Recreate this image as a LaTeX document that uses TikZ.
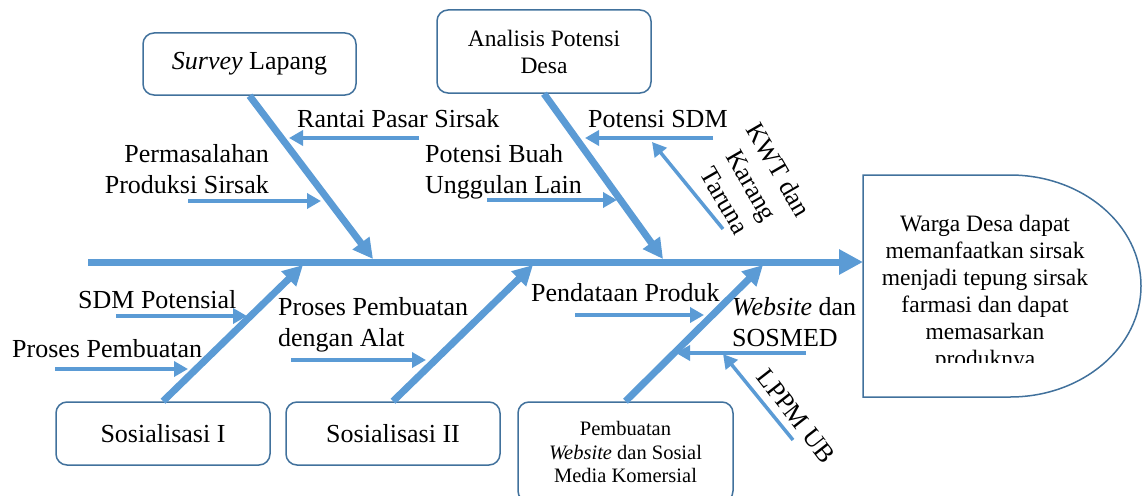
\documentclass[tikz,border=0pt]{standalone}
\usepackage{fontspec}
\setmainfont{Liberation Serif}
\usetikzlibrary{arrows.meta}
\definecolor{fb}{HTML}{5B9BD5}
\definecolor{bc}{HTML}{41719C}
\newcommand\fbig{\fontsize{26}{31}\selectfont}
\newcommand\fmid{\fontsize{23.5}{27}\selectfont}
\newcommand\fsml{\fontsize{20.5}{23.5}\selectfont}
\begin{document}
\begin{tikzpicture}[x=1pt,y=-1pt,
  boxn/.style={draw=bc, line width=1.5pt, rounded corners=11pt, inner sep=0pt, align=center},
  bone/.style={draw=fb, line width=7pt, -{Triangle[length=20pt,width=20pt]}},
  twig/.style={draw=fb, line width=3.5pt, -{Triangle[length=14pt,width=15pt]}},
  lbl/.style={inner sep=0pt, font=\fbig},
  spine/.style={draw=fb, line width=7pt, -{Triangle[length=24pt,width=24pt]}}]
\useasboundingbox (0,0) rectangle (1142,495);
\clip (0,0) rectangle (1142,495);

% boxes
\node[boxn, minimum width=213pt, minimum height=62pt, font=\fbig] (sv) at (249.5,64) {\textit{Survey} Lapang};
\node[boxn, minimum width=214pt, minimum height=83pt, font=\fmid] (ap) at (544,51.5) {Analisis Potensi\\Desa};
\node[boxn, minimum width=214pt, minimum height=63pt, font=\fbig] (s1) at (163,433.5) {Sosialisasi I};
\node[boxn, minimum width=214pt, minimum height=63pt, font=\fbig] (s2) at (393,433.5) {Sosialisasi II};
\node[boxn, minimum width=215pt, minimum height=100pt, font=\fsml] (pw) at (625.5,452) {Pembuatan\\\textit{Website} dan Sosial\\Media Komersial};

% goal shape
\coordinate (g1) at (1010,175);
\coordinate (g2) at (863,175);
\coordinate (g3) at (863,397);
\coordinate (g4) at (1010,397);
\coordinate (g5) at (1141,286);
\draw[draw=bc, line width=1.5pt] (g1) -- (g2) -- (g3) -- (g4)
  .. controls (1082.3,397) and (1141,347.3) .. (g5)
  .. controls (1141,224.7) and (1082.3,175) .. (g1);
\begin{scope}
\clip (863,175) rectangle (1142,362);
\node[inner sep=0pt, font=\fmid, align=center, anchor=north] (goal) at (985,215)
  {Warga Desa dapat\\memanfaatkan sirsak\\menjadi tepung sirsak\\farmasi dan dapat\\memasarkan\\produknya};
\end{scope}

% spine
\coordinate (s0) at (88,262);
\coordinate (gw) at (863,262);
\draw[spine] (s0) -- (gw);

% bone tips
\coordinate (t1) at (373,259);
\coordinate (t2) at (663,259);
\coordinate (b1) at (303,265);
\coordinate (b2) at (533,265);
\coordinate (b3) at (763,265);
\draw[bone] (sv.south) -- (t1);
\draw[bone] (ap.south) -- (t2);
\draw[bone] (s1.north) -- (b1);
\draw[bone] (s2.north) -- (b2);
\draw[bone] (pw.north) -- (b3);

% labels
\node[lbl, anchor=base west] (rp) at (297,127) {Rantai Pasar Sirsak};
\node[lbl, align=right, anchor=north east] (pm) at (269,144) {Permasalahan\\Produksi Sirsak};
\node[lbl, align=left, anchor=north west] (pb) at (425,144) {Potensi Buah\\Unggulan Lain};
\node[lbl, anchor=base west] (ps) at (588,127) {Potensi SDM};
\node[lbl, align=center, rotate=-60] (kwt) at (752,185) {KWT dan\\Karang\\Taruna};
\node[lbl, anchor=base west] (sp) at (78,308) {SDM Potensial};
\node[lbl, anchor=base west] (pp) at (12,357) {Proses Pembuatan};
\node[lbl, align=left, anchor=north west] (pa) at (278,297) {Proses Pembuatan\\dengan Alat};
\node[lbl, anchor=base west] (pd) at (531,301) {Pendataan Produk};
\node[lbl, align=left, anchor=north west] (ws) at (732,297) {\textit{Website} dan\\SOSMED};
\node[lbl, rotate=-52] (lp) at (796,416) {LPPM UB};

% twigs
\coordinate (a1s) at (419,138); \coordinate (a1e) at (289,138);
\coordinate (a2s) at (188,201); \coordinate (a2e) at (321,201);
\coordinate (a3s) at (487,200); \coordinate (a3e) at (617,200);
\coordinate (a4s) at (713,138); \coordinate (a4e) at (585,138);
\coordinate (a5s) at (723,229); \coordinate (a5e) at (652,142);
\coordinate (a6s) at (116,316); \coordinate (a6e) at (247,316);
\coordinate (a7s) at (55,369);  \coordinate (a7e) at (188,369);
\coordinate (a8s) at (291,360); \coordinate (a8e) at (426,360);
\coordinate (a9s) at (575,315); \coordinate (a9e) at (704,315);
\coordinate (a10s) at (806,353); \coordinate (a10e) at (676,353);
\coordinate (a11s) at (793,440); \coordinate (a11e) at (723,354);
\foreach \i in {1,...,11} \draw[twig] (a\i s) -- (a\i e);
\end{tikzpicture}
\end{document}
